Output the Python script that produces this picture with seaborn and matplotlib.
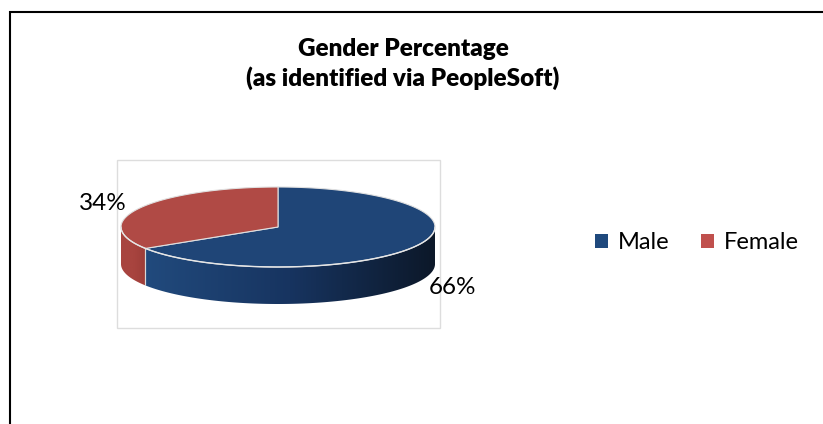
"""
Gender percentage, 3-D style pie (Excel look-alike) drawn with seaborn/matplotlib.
Output: out.png (823x424)
"""

import numpy as np
import matplotlib
matplotlib.use("Agg")
import matplotlib.pyplot as plt
from matplotlib.patches import Polygon, Rectangle, Patch
from matplotlib.colors import LinearSegmentedColormap
import seaborn as sns

# ── Data ─────────────────────────────────────────────────────────────────────

TITLE      = "Gender Percentage\n(as identified via PeopleSoft)"
CATEGORIES = ["Male", "Female"]
SHARES     = [0.66, 0.34]

# ── Style ────────────────────────────────────────────────────────────────────

TOP_COLORS    = ["#1F4577", "#B04A45"]
LEGEND_COLORS = ["#1F497D", "#C0504D"]
SIDE_RAMPS    = [["#214A7D", "#173460", "#0C1829"], ["#A8443F", "#A8443F", "#9C3D38"]]

W, H = 823, 424
CX, CY = 278, 227       # centre of the top face (pixels)
RX, RY = 157, 40        # ellipse radii
DEPTH = 37              # thickness of the pie

sns.set_theme(style="white")
plt.rcParams["font.family"] = ["Lato", "DejaVu Sans"]
plt.rcParams["text.color"] = "black"


def arc(t1, t2, dy=0.0, n=200):
    t = np.radians(np.linspace(t1, t2, n))
    return np.column_stack([CX + RX * np.cos(t), CY - RY * np.sin(t) + dy])


def main():
    fig = plt.figure(figsize=(W / 100, H / 100), dpi=100)
    ax = fig.add_axes([0, 0, 1, 1])
    ax.set_xlim(0, W)
    ax.set_ylim(H, 0)
    ax.axis("off")

    # outer frame (left + top only, as cropped in the source)
    ax.plot([10.5, 10.5, W], [H, 11.5, 11.5], color="black", lw=1.5,
            solid_joinstyle="miter", clip_on=False)

    # light plot-area box
    ax.add_patch(Rectangle((117, 160), 323, 168, fill=False,
                           edgecolor="#DDDDDD", lw=1))

    # wedge angle ranges: start at 12 o'clock, clockwise
    bounds = 90 - 360 * np.concatenate([[0], np.cumsum(SHARES)])
    wedges = list(zip(bounds[:-1], bounds[1:]))

    # side walls (only the front half, angles in [-180, 0], is visible)
    for (a0, a1), ramp in zip(wedges, SIDE_RAMPS):
        for shift in (0, -360, 360):
            lo = max(min(a0, a1) + shift, -180)
            hi = min(max(a0, a1) + shift, 0)
            if hi <= lo:
                continue
            top = arc(lo, hi)
            bot = arc(hi, lo, DEPTH)
            wall = Polygon(np.vstack([top, bot]), closed=True,
                           facecolor="none", edgecolor="none")
            ax.add_patch(wall)
            xs = np.vstack([top, bot])[:, 0]
            grad = np.linspace(0, 1, 256).reshape(1, -1)
            cmap = LinearSegmentedColormap.from_list("side", ramp)
            im = ax.imshow(grad, cmap=cmap, aspect="auto",
                           extent=(xs.min(), xs.max(), CY + RY + DEPTH + 2, CY - 2),
                           zorder=1)
            im.set_clip_path(wall)
            # light seams at the wall ends
            for a in (lo, hi):
                if -180 < a < 0:
                    p = arc(a, a, n=1)[0]
                    ax.plot([p[0], p[0]], [p[1], p[1] + DEPTH],
                            color="#D8D8D8", lw=0.8, zorder=3)

    # top faces
    for (a0, a1), col in zip(wedges, TOP_COLORS):
        pts = np.vstack([[CX, CY], arc(a0, a1)])
        ax.add_patch(Polygon(pts, closed=True, facecolor=col,
                             edgecolor="#E0E0E0", lw=0.8, zorder=4))

    # front rim highlight
    rim = arc(-180, 0)
    ax.plot(rim[:, 0], rim[:, 1], color="#E6E6E6", lw=1.0, zorder=5)

    # percentage labels
    for (a0, a1), share in zip(wedges, SHARES):
        mid = np.radians((a0 + a1) / 2)
        x = CX + 1.27 * RX * np.cos(mid)
        y = CY - 1.2 * RY * np.sin(mid) + (DEPTH if np.sin(mid) < 0 else 0)
        ax.text(x, y, f"{share:.0%}", fontsize=17.5, ha="center", va="center",
                color="black", zorder=6)

    # title
    fig.text(403 / W, 1 - 64 / H, TITLE, ha="center", va="center",
             fontsize=17.5, fontweight="heavy", linespacing=1.3, color="black")

    # legend
    handles = [Patch(facecolor=c, edgecolor="none") for c in LEGEND_COLORS]
    fig.legend(handles, CATEGORIES, loc="center", ncol=2,
               bbox_to_anchor=(697 / W, 1 - 243 / H), frameon=False,
               fontsize=17, handlelength=0.55, handleheight=0.55,
               handletextpad=0.45, columnspacing=1.3)

    fig.savefig("out.png", dpi=100)
    plt.close(fig)


if __name__ == "__main__":
    main()
